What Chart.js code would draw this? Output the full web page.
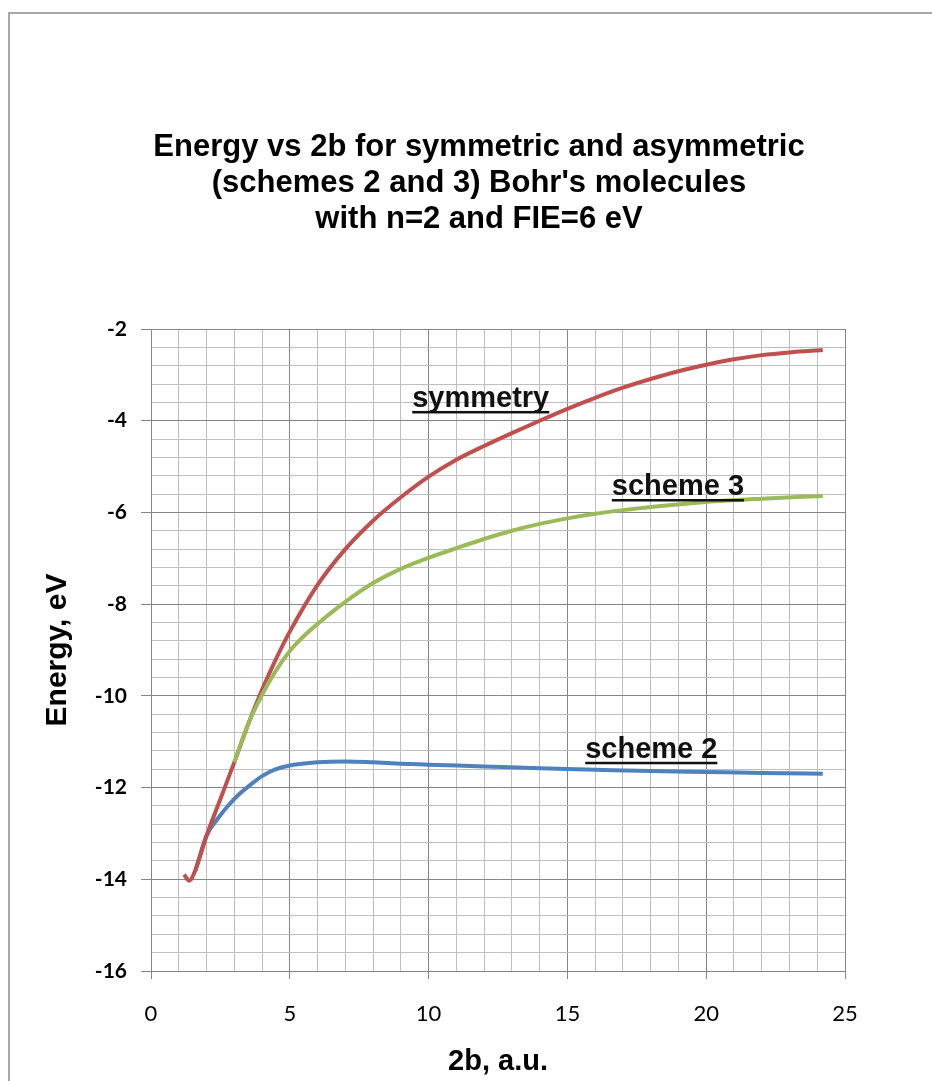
<!DOCTYPE html>
<html>
<head>
<meta charset="utf-8">
<title>Energy vs 2b</title>
<script src="https://cdn.jsdelivr.net/npm/chart.js@4.4.1/dist/chart.umd.min.js"></script>
<style>
  html, body { margin: 0; padding: 0; background: #fff; overflow: hidden; }
  #frame {
    position: absolute; left: 8px; top: 12px;
    width: 980px; height: 1120px;
    border: 2px solid #a8a8a8; box-sizing: border-box;
  }
  #energyChart { position: absolute; left: 0; top: 0; }
</style>
</head>
<body>
<div id="frame"></div>
<canvas id="energyChart" width="932" height="1081"></canvas>
<script>
// symmetric molecule
const symX = [1.19, 1.38, 1.6, 2.0, 2.5, 3.0, 3.5, 4.0, 4.5, 5, 6, 7, 8, 9, 10, 11, 12, 13, 14, 15, 16, 17, 18, 19, 20, 21, 22, 23, 24.2];
const symE = [-13.9, -14.03, -13.8, -13.05, -12.25, -11.45, -10.62, -9.87, -9.2, -8.6, -7.58, -6.8, -6.18, -5.67, -5.22, -4.85, -4.55, -4.27, -4.0, -3.74, -3.5, -3.28, -3.09, -2.92, -2.78, -2.66, -2.57, -2.51, -2.46];

// asymmetric, scheme 3
const s3X = [3.0, 3.5, 4.0, 4.5, 5, 5.5, 6, 7, 8, 9, 10, 11, 12, 13, 14, 15, 16, 17, 18, 20, 22, 24.2];
const s3E = [-11.45, -10.62, -9.98, -9.45, -9.02, -8.7, -8.43, -7.95, -7.54, -7.23, -6.99, -6.78, -6.58, -6.4, -6.25, -6.13, -6.03, -5.95, -5.88, -5.77, -5.7, -5.64];

// asymmetric, scheme 2
const s2X = [1.6, 2.0, 2.4, 2.8, 3.2, 3.6, 4.0, 4.5, 5, 6, 7, 8, 9, 10, 12, 14, 16, 18, 20, 22, 24.2];
const s2E = [-13.8, -13.05, -12.68, -12.38, -12.13, -11.93, -11.75, -11.6, -11.52, -11.45, -11.43, -11.45, -11.48, -11.5, -11.54, -11.58, -11.61, -11.64, -11.66, -11.68, -11.7];

const titleLines = [
  "Energy vs 2b for symmetric and asymmetric",
  "(schemes 2 and 3) Bohr's molecules",
  "with n=2 and FIE=6 eV"
];

// in-plot curve names, anchored in data units (left edge, baseline)
const curveNames = [
  { text: "symmetry", x: 9.41, y: -3.7 },
  { text: "scheme 3", x: 16.6, y: -5.62 },
  { text: "scheme 2", x: 15.64, y: -11.35 }
];

const majorGrid = "#868686";
const minorGrid = "#bebebe";
const boldArial = (size) => ({ family: "'Liberation Sans', Arial, sans-serif", size: size, weight: "bold" });

const toPoints = (xs, ys) => xs.map((x, i) => ({ x: x, y: ys[i] }));
const isMultiple = (v, step) => Math.abs(v / step - Math.round(v / step)) < 1e-6;

const titleBlock = {
  id: "titleBlock",
  afterDraw(chart) {
    const ctx = chart.ctx;
    ctx.save();
    ctx.font = "bold 31px 'Liberation Sans', Arial, sans-serif";
    ctx.fillStyle = "#000";
    ctx.textAlign = "center";
    ctx.textBaseline = "middle";
    titleLines.forEach((line, i) => ctx.fillText(line, 479, 147 + i * 36));
    ctx.restore();
  }
};

const namesPlugin = {
  id: "curveNames",
  afterDatasetsDraw(chart) {
    const { ctx, scales } = chart;
    ctx.save();
    ctx.font = "bold 29px 'Liberation Sans', Arial, sans-serif";
    ctx.fillStyle = "#111";
    ctx.textAlign = "left";
    ctx.textBaseline = "alphabetic";
    curveNames.forEach((n) => {
      const px = scales.x.getPixelForValue(n.x);
      const py = scales.y.getPixelForValue(n.y);
      ctx.fillText(n.text, px, py);
      const w = ctx.measureText(n.text).width;
      ctx.fillRect(px, py + 4, w, 2.5);
    });
    ctx.restore();
  }
};

new Chart(document.getElementById("energyChart"), {
  type: "line",
  data: {
    datasets: [
      {
        label: "scheme 3",
        data: toPoints(s3X, s3E),
        borderColor: "#9BBB59",
        order: 0
      },
      {
        label: "symmetry",
        data: toPoints(symX, symE),
        borderColor: "#C0504D",
        order: 1
      },
      {
        label: "scheme 2",
        data: toPoints(s2X, s2E),
        borderColor: "#4F81BD",
        order: 2
      }
    ]
  },
  options: {
    responsive: false,
    animation: false,
    parsing: false,
    elements: {
      line: { borderWidth: 4, cubicInterpolationMode: "monotone", fill: false },
      point: { radius: 0, hoverRadius: 0 }
    },
    layout: { padding: { top: 329, right: 87, bottom: 0, left: 0 } },
    plugins: {
      legend: { display: false },
      tooltip: { enabled: false }
    },
    scales: {
      x: {
        type: "linear",
        min: 0,
        max: 25,
        afterFit(scale) { scale.height = 110; },
        ticks: {
          stepSize: 1,
          autoSkip: false,
          maxRotation: 0,
          padding: 22,
          color: "#000",
          font: { family: "Lato", size: 22 },
          callback: (v) => (isMultiple(v, 5) ? v : "")
        },
        grid: {
          color: (c) => (c.tick && isMultiple(c.tick.value, 5) ? majorGrid : minorGrid),
          tickColor: (c) => (c.tick && isMultiple(c.tick.value, 5) ? majorGrid : "rgba(0,0,0,0)"),
          tickLength: 8,
          lineWidth: 1
        },
        border: { color: majorGrid },
        title: {
          display: true,
          text: "2b, a.u.",
          color: "#000",
          font: boldArial(29),
          padding: { top: 0, bottom: 2 }
        }
      },
      y: {
        type: "linear",
        min: -16,
        max: -2,
        afterFit(scale) { scale.width = 151; },
        ticks: {
          stepSize: 0.4,
          autoSkip: false,
          padding: 14,
          color: "#000",
          font: { family: "Lato", size: 21, weight: "bold" },
          callback: (v) => (isMultiple(v, 2) ? v : "")
        },
        grid: {
          color: (c) => (c.tick && isMultiple(c.tick.value, 2) ? majorGrid : minorGrid),
          tickColor: (c) => (c.tick && isMultiple(c.tick.value, 2) ? majorGrid : "rgba(0,0,0,0)"),
          tickLength: 10,
          lineWidth: 1
        },
        border: { color: majorGrid },
        title: {
          display: true,
          text: "Energy, eV",
          color: "#000",
          font: boldArial(30),
          padding: { top: 40, bottom: 0 }
        }
      }
    }
  },
  plugins: [titleBlock, namesPlugin]
});
</script>
</body>
</html>
